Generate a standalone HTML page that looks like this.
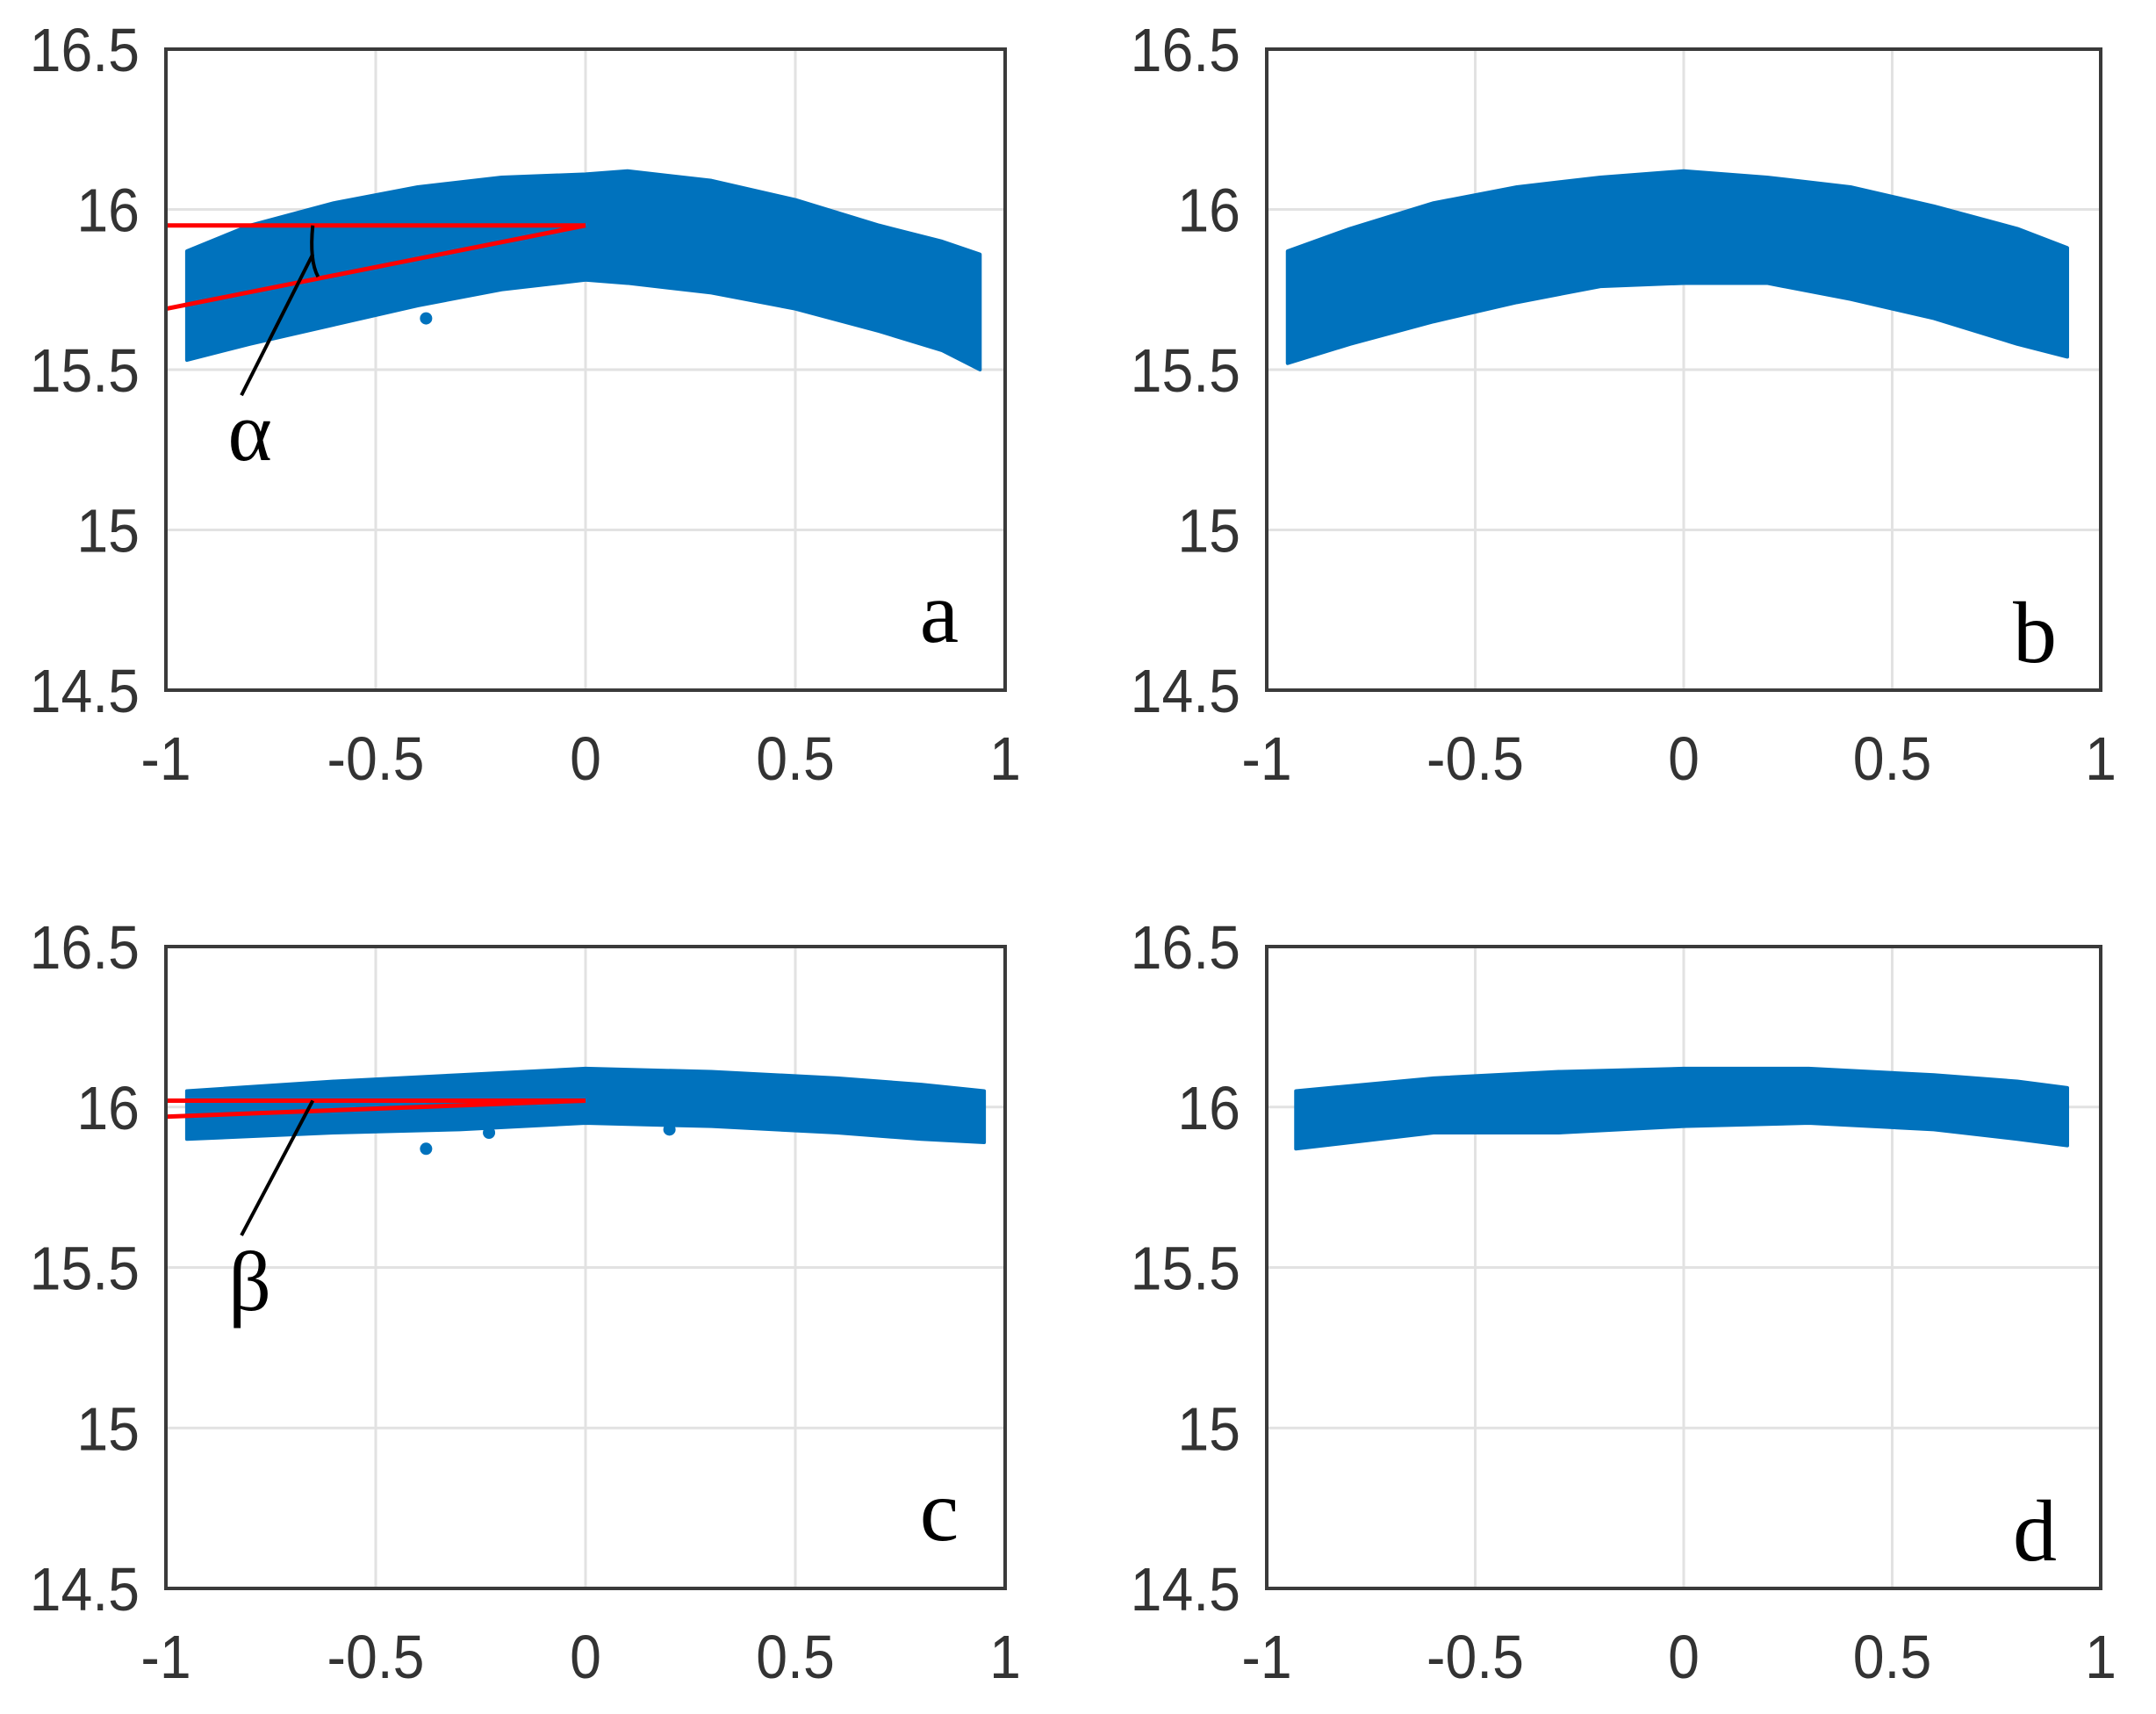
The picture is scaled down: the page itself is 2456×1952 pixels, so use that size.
<!DOCTYPE html>
<html><head><meta charset="utf-8"><style>
html,body{margin:0;padding:0;background:#fff;}
svg{display:block;}
</style></head><body>
<svg id="fig" width="2456" height="1952" viewBox="0 0 2456 1952" xmlns="http://www.w3.org/2000/svg"></svg>
<script>
const xTicks=[-1,-0.5,0,0.5,1];
const xTickLabels=["-1","-0.5","0","0.5","1"];
const yTicks=[14.5,15,15.5,16,16.5];
const yTickLabels=["14.5","15","15.5","16","16.5"];
const panelLetters=["a","b","c","d"];
// band edges: x positions and upper/lower y values
const aX=[-0.95,-0.8,-0.6,-0.4,-0.2,0,0.1,0.3,0.5,0.7,0.85,0.94];
const aUpper=[15.87,15.95,16.02,16.07,16.1,16.11,16.12,16.09,16.03,15.95,15.9,15.86];
const aLower=[15.53,15.58,15.64,15.7,15.75,15.78,15.77,15.74,15.69,15.62,15.56,15.5];
const bX=[-0.95,-0.8,-0.6,-0.4,-0.2,0,0.2,0.4,0.6,0.8,0.92];
const bUpper=[15.87,15.94,16.02,16.07,16.1,16.12,16.1,16.07,16.01,15.94,15.88];
const bLower=[15.52,15.58,15.65,15.71,15.76,15.77,15.77,15.72,15.66,15.58,15.54];
const cX=[-0.95,-0.6,-0.3,0,0.3,0.6,0.8,0.95];
const cUpper=[16.05,16.08,16.1,16.12,16.11,16.09,16.07,16.05];
const cLower=[15.9,15.92,15.93,15.95,15.94,15.92,15.9,15.89];
const dX=[-0.93,-0.6,-0.3,0,0.3,0.6,0.8,0.92];
const dUpper=[16.05,16.09,16.11,16.12,16.12,16.1,16.08,16.06];
const dLower=[15.87,15.92,15.92,15.94,15.95,15.93,15.9,15.88];
const aOutX=[-0.38];const aOutY=[15.66];
const cOutX=[-0.38,-0.23,0.2];const cOutY=[15.87,15.92,15.93];
const panels=[
 {L:189,R:1145,T:56,B:786,X:aX,U:aUpper,Lo:aLower,ox:aOutX,oy:aOutY,ann:{y0:15.95,y1:15.69,lx:[-0.65,-0.82],ly:[15.86,15.42],sym:"α",sx:-0.8,sy:15.3}},
 {L:1443,R:2393,T:56,B:786,X:bX,U:bUpper,Lo:bLower,ox:[],oy:[]},
 {L:189,R:1145,T:1078,B:1809,X:cX,U:cUpper,Lo:cLower,ox:cOutX,oy:cOutY,ann:{y0:16.02,y1:15.97,lx:[-0.65,-0.82],ly:[16.02,15.6],sym:"β",sx:-0.8,sy:15.45}},
 {L:1443,R:2393,T:1078,B:1809,X:dX,U:dUpper,Lo:dLower,ox:[],oy:[]}
];
const NS="http://www.w3.org/2000/svg";
const svg=document.getElementById('fig');
function mk(tag,attrs,parent){const e=document.createElementNS(NS,tag);for(const k in attrs)e.setAttribute(k,attrs[k]);(parent||svg).appendChild(e);return e;}
panels.forEach((p,i)=>{
 const g=mk('g',{});
 
 
 const sx=v=>p.L+(v+1)/2*(p.R-p.L);
 const sy=v=>p.B-(v-14.5)/2*(p.B-p.T);
 xTicks.forEach((t,k)=>{
  if(k>0&&k<xTicks.length-1){const l=mk('line',{x1:sx(t),x2:sx(t),y1:p.T,y2:p.B,stroke:'#e2e2e2','stroke-width':3},g);
  }
  const tx=mk('text',{x:0,y:0,'text-anchor':'middle','font-family':'Liberation Sans, sans-serif','font-size':70,fill:'#333',transform:'translate('+sx(t)+','+(p.B+102)+') scale(0.92,1)'},g);
  tx.textContent=xTickLabels[k];
  
 });
 yTicks.forEach((t,k)=>{
  if(k>0&&k<yTicks.length-1){const l=mk('line',{x1:p.L,x2:p.R,y1:sy(t),y2:sy(t),stroke:'#e2e2e2','stroke-width':3},g);
  }
  const tx=mk('text',{x:0,y:0,'text-anchor':'end','font-family':'Liberation Sans, sans-serif','font-size':70,fill:'#333',transform:'translate('+(p.L-30)+','+(sy(t)+25)+') scale(0.92,1)'},g);
  tx.textContent=yTickLabels[k];
  
 });
 let d='';
 p.X.forEach((x,k)=>{d+=(k?'L':'M')+sx(x)+','+sy(p.U[k]);});
 for(let k=p.X.length-1;k>=0;k--){d+='L'+sx(p.X[k])+','+sy(p.Lo[k]);}
 d+='Z';
 const band=mk('path',{d:d,fill:'#0072bd',stroke:'#0072bd','stroke-width':4,'stroke-linejoin':'round'},g);
 
 p.ox.forEach((x,k)=>{const c=mk('circle',{cx:sx(x),cy:sy(p.oy[k]),r:7,fill:'#0072bd'},g);
  });
 if(p.ann){
  const a=p.ann;
  const r1=mk('line',{x1:sx(-1),y1:sy(a.y0),x2:sx(0),y2:sy(a.y0),stroke:'#ff0000','stroke-width':5},g);
  
  const r2=mk('line',{x1:sx(-1),y1:sy(a.y1),x2:sx(0),y2:sy(a.y0),stroke:'#ff0000','stroke-width':5},g);
  
  const b=mk('line',{x1:sx(a.lx[0]),y1:sy(a.ly[0]),x2:sx(a.lx[1]),y2:sy(a.ly[1]),stroke:'#000','stroke-width':4},g);
  
  if(i===0){const arc=mk('path',{d:'M'+sx(-0.65)+','+sy(15.95)+' Q'+(sx(-0.65)-4)+','+(sy(15.84))+' '+(sx(-0.65)+6)+','+sy(15.79),fill:'none',stroke:'#000','stroke-width':4},g);
   }
  const s=mk('text',{x:sx(a.sx),y:sy(a.sy)+30,'text-anchor':'middle','font-family':'Liberation Serif, serif','font-size':96,fill:'#000'},g);
  s.textContent=a.sym;
  
 }
 const fr=mk('rect',{x:p.L,y:p.T,width:p.R-p.L,height:p.B-p.T,fill:'none',stroke:'#3a3a3a','stroke-width':4},g);
 
 const lt=mk('text',{x:p.R-75,y:p.B-(i%2?32:55),'text-anchor':'middle','font-family':'Liberation Serif, serif','font-size':100,fill:'#000'},g);
 lt.textContent=panelLetters[i];
 
});
</script>
</body></html>
